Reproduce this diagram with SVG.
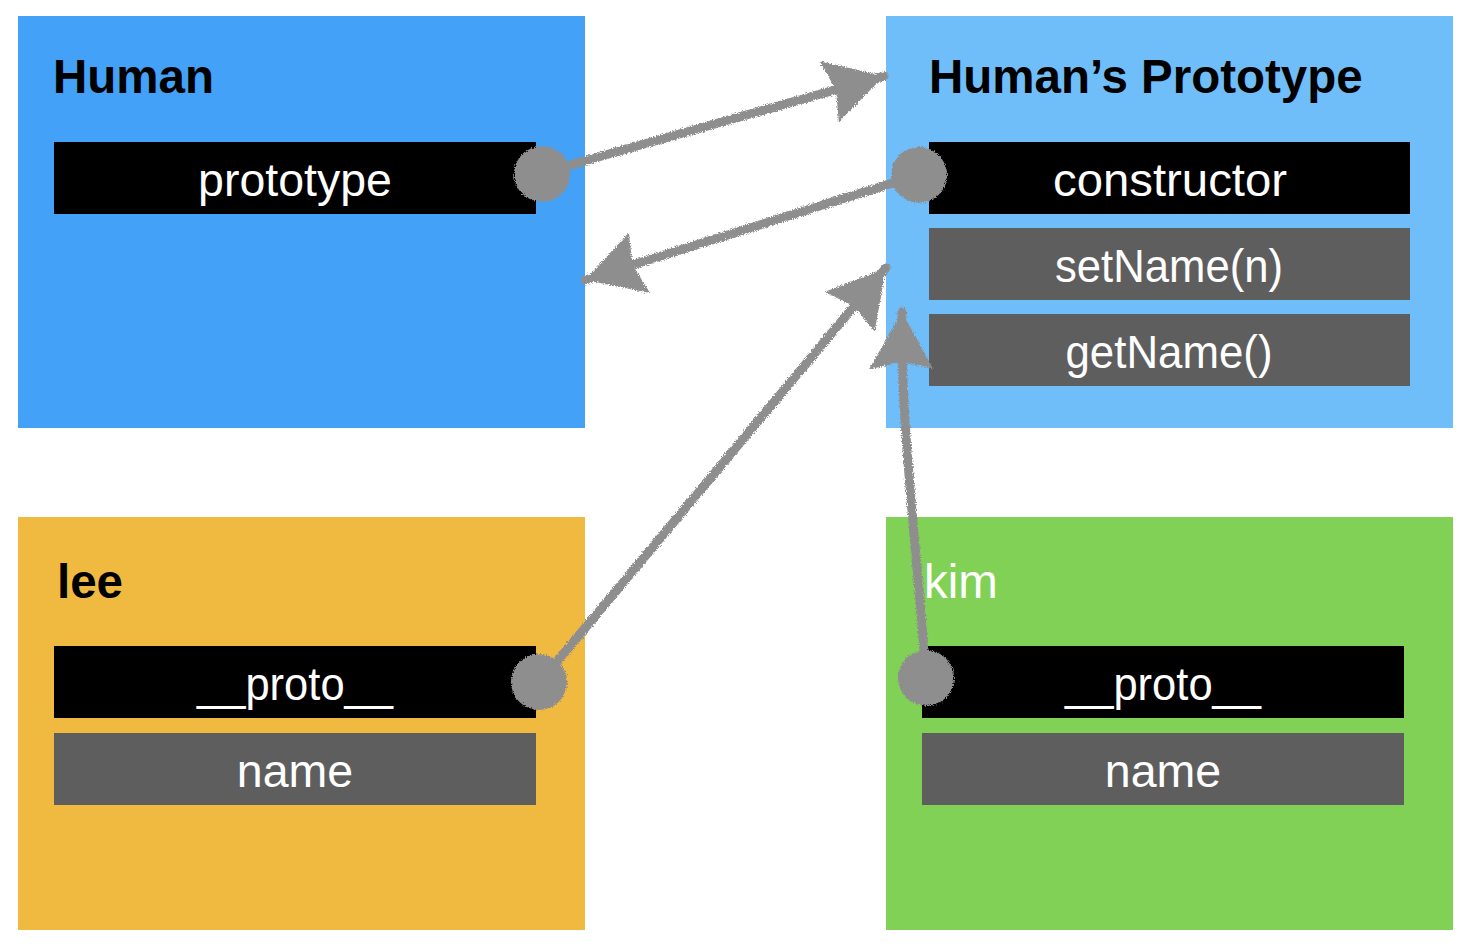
<svg xmlns="http://www.w3.org/2000/svg" width="1470" height="948" viewBox="0 0 1470 948">
<style>
.title{font-family:"Liberation Sans",Arial,sans-serif;font-weight:bold;font-size:47.5px;fill:#000}
.lbl{font-family:"Liberation Sans",Arial,sans-serif;font-size:46.5px;fill:#fff;text-anchor:middle}
.blk{fill:#000}
.gry{fill:#5e5e5e}
.conn{fill:none;stroke:#8e8e8e;stroke-width:9;stroke-linecap:round}
.dot{fill:#8e8e8e}
</style>
<defs>
<filter id="chalk" x="-10%" y="-10%" width="120%" height="120%">
<feTurbulence type="fractalNoise" baseFrequency="0.9" numOctaves="2" seed="3" result="n"/>
<feDisplacementMap in="SourceGraphic" in2="n" scale="5" xChannelSelector="R" yChannelSelector="G"/>
</filter>
<marker id="head" markerUnits="userSpaceOnUse" markerWidth="70" markerHeight="70" refX="58" refY="32" orient="auto">
<path d="M0,0 L58,32 L2,64 L8,32 Z" fill="#8e8e8e"/>
</marker>
</defs>
<rect width="1470" height="948" fill="#fff"/>
<g id="human">
<rect x="18" y="16" width="567" height="412" fill="#43a1f8"/>
<text class="title" x="53" y="93">Human</text>
<rect class="blk" x="54" y="142" width="482" height="72"/>
<text class="lbl" x="295" y="196">prototype</text>
</g>
<g id="humanPrototype">
<rect x="886" y="16" width="567" height="412" fill="#6fbef9"/>
<text class="title" x="929" y="93">Human’s Prototype</text>
<rect class="blk" x="929" y="142" width="481" height="72"/>
<text class="lbl" x="1170" y="196" textLength="234" lengthAdjust="spacingAndGlyphs">constructor</text>
<rect class="gry" x="929" y="228" width="481" height="72"/>
<text class="lbl" x="1169" y="282" textLength="228" lengthAdjust="spacingAndGlyphs">setName(n)</text>
<rect class="gry" x="929" y="314" width="481" height="72"/>
<text class="lbl" x="1169" y="368" textLength="207" lengthAdjust="spacingAndGlyphs">getName()</text>
</g>
<g id="lee">
<rect x="18" y="517" width="567" height="413" fill="#f0ba40"/>
<text class="title" x="57" y="598">lee</text>
<rect class="blk" x="54" y="646" width="482" height="72"/>
<text class="lbl" x="295" y="700" textLength="196" lengthAdjust="spacingAndGlyphs">__proto__</text>
<rect class="gry" x="54" y="733" width="482" height="72"/>
<text class="lbl" x="295" y="787">name</text>
</g>
<g id="kim">
<rect x="886" y="517" width="567" height="413" fill="#80d155"/>
<text class="title" x="924" y="598" style="fill:#fff;font-weight:normal">kim</text>
<rect class="blk" x="922" y="646" width="482" height="72"/>
<text class="lbl" x="1163" y="700" textLength="196" lengthAdjust="spacingAndGlyphs">__proto__</text>
<rect class="gry" x="922" y="733" width="482" height="72"/>
<text class="lbl" x="1163" y="787">name</text>
</g>
<g id="connectors" filter="url(#chalk)">
<path class="conn" d="M542,173 L884,76" marker-end="url(#head)"/>
<circle class="dot" cx="542" cy="174" r="28"/>
<path class="conn" d="M918,175 L585,280" marker-end="url(#head)"/>
<circle class="dot" cx="919" cy="175" r="28"/>
<path class="conn" d="M540,682 L886,268" marker-end="url(#head)"/>
<circle class="dot" cx="539" cy="682" r="28"/>
<path class="conn" d="M926,677 C918,560 900,420 902,312" marker-end="url(#head)"/>
<circle class="dot" cx="926" cy="678" r="28"/>
</g>
</svg>
